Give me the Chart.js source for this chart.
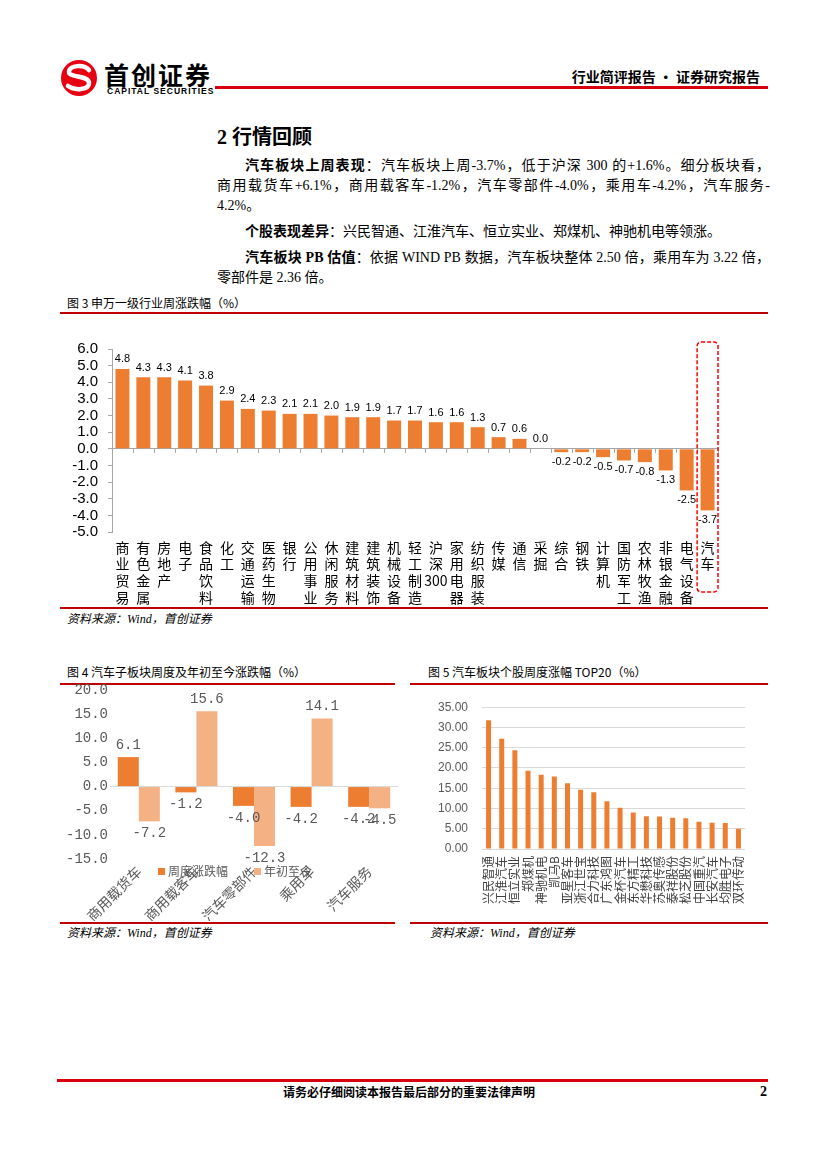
<!DOCTYPE html>
<html lang="zh-CN">
<head>
<meta charset="UTF-8" />
<script src="https://cdn.jsdelivr.net/npm/chart.js"></script>
<title>行业简评报告</title>
<style>
  body { margin: 0; background: #fff; font-family: "Liberation Serif", "Noto Sans CJK SC", serif; color: #000; }
  .page { position: relative; width: 827px; height: 1169px; overflow: hidden; }
  .abs { position: absolute; }
  .redline { position: absolute; background: #C00000; }
  .figtitle { position: absolute; font-family: "Noto Sans CJK SC", sans-serif; font-size: 12px; line-height: 16px; white-space: nowrap; }
  .source { position: absolute; font-family: "Liberation Serif", "Noto Sans CJK SC", serif; font-style: italic; font-size: 12px; line-height: 16px; white-space: nowrap; }
  .para { position: absolute; left: 217px; width: 553px; font-size: 14px; }
  .ln { height: 20px; line-height: 20px; white-space: nowrap; }
  .j { text-align: justify; text-align-last: justify; white-space: normal; }
  .ind { text-indent: 28px; }
  .para b { font-family: "Liberation Serif", "Noto Sans CJK SC", serif; font-weight: bold; }
  .chartbox { position: absolute; }
  .lg { position: absolute; font-family: "Noto Sans CJK SC", sans-serif; font-size: 12px; color: #595959; line-height: 14px; white-space: nowrap; }
  .lg i { display: inline-block; width: 7px; height: 7px; margin-right: 3px; vertical-align: 1px; }
</style>
</head>
<body>
<div class="page">
  <!-- header -->
  <svg class="abs" style="left:60px;top:59px" width="38" height="38" viewBox="0 0 38 38">
    <circle cx="19" cy="19" r="18" fill="#E60012" />
    <path d="M29 11 C24 5, 9 6, 9 13 C9 19, 29 16, 29 24 C29 31, 15 32, 8 27" stroke="#fff" stroke-width="4.5" fill="none" stroke-linecap="round" />
  </svg>
  <div class="abs" style="left:104px;top:60px;font-family:'Noto Sans CJK SC';font-weight:bold;font-size:25px;line-height:28px;letter-spacing:2px">首创证券</div>
  <div class="abs" style="left:107px;top:86px;font-family:'Liberation Sans';font-weight:bold;font-size:8.5px;line-height:10px;letter-spacing:1px">CAPITAL SECURITIES</div>
  <div class="redline" style="left:215px;top:86px;width:553px;height:3px;background:#D7000F"></div>
  <div class="abs" style="left:553px;top:66px;width:207px;text-align:right;font-family:'Noto Sans CJK SC';font-weight:bold;font-size:14px;line-height:20px;white-space:nowrap">行业简评报告 · 证券研究报告</div>

  <!-- text -->
  <div class="abs" style="left:217px;top:124px;font-family:'Liberation Serif','Noto Sans CJK SC';font-weight:bold;font-size:20px;line-height:26px">2 行情回顾</div>
  <div class="para" style="top:156px">
    <div class="ln j ind"><b>汽车板块上周表现</b>：汽车板块上周-3.7%，低于沪深 300 的+1.6%。细分板块看，</div>
    <div class="ln j">商用载货车+6.1%，商用载客车-1.2%，汽车零部件-4.0%，乘用车-4.2%，汽车服务-</div>
    <div class="ln">4.2%。</div>
  </div>
  <div class="para" style="top:222px">
    <div class="ln ind"><b>个股表现差异</b>：兴民智通、江淮汽车、恒立实业、郑煤机、神驰机电等领涨。</div>
  </div>
  <div class="para" style="top:248px">
    <div class="ln j ind"><b>汽车板块 PB 估值</b>：依据 WIND PB 数据，汽车板块整体 2.50 倍，乘用车为 3.22 倍，</div>
    <div class="ln">零部件是 2.36 倍。</div>
  </div>

  <!-- figure 3 -->
  <div class="figtitle" style="left:67px;top:295px">图 3 申万一级行业周涨跌幅（%）</div>
  <div class="redline" style="left:60px;top:312px;width:708px;height:2px"></div>
  <div class="chartbox" style="left:60px;top:330px;width:708px;height:280px"><canvas id="c3"></canvas></div>
  <div class="redline" style="left:60px;top:607px;width:708px;height:1.5px"></div>
  <div class="source" style="left:67px;top:611px">资料来源：Wind，首创证券</div>

  <!-- figure 4 -->
  <div class="figtitle" style="left:67px;top:664px">图 4 汽车子板块周度及年初至今涨跌幅（%）</div>
  <div class="redline" style="left:60px;top:683px;width:335px;height:1.5px"></div>
  <div class="chartbox" style="left:60px;top:676px;width:340px;height:245px"><canvas id="c4"></canvas></div>
  <div class="lg" style="left:158px;top:864px"><i style="background:#ED7D31"></i>周度涨跌幅</div>
  <div class="lg" style="left:254px;top:864px"><i style="background:#F4B183"></i>年初至今</div>
  <div class="redline" style="left:60px;top:922px;width:335px;height:1.5px"></div>
  <div class="source" style="left:67px;top:925px">资料来源：Wind，首创证券</div>

  <!-- figure 5 -->
  <div class="figtitle" style="left:428px;top:664px">图 5 汽车板块个股周度涨幅 TOP20（%）</div>
  <div class="redline" style="left:410px;top:683px;width:358px;height:1.5px"></div>
  <div class="chartbox" style="left:410px;top:686px;width:358px;height:236px"><canvas id="c5"></canvas></div>
  <div class="redline" style="left:410px;top:922px;width:358px;height:1.5px"></div>
  <div class="source" style="left:430px;top:925px">资料来源：Wind，首创证券</div>

  <!-- footer -->
  <div class="redline" style="left:57px;top:1079px;width:711px;height:3px;background:#D7000F"></div>
  <div class="abs" style="left:283px;top:1084px;font-family:'Noto Sans CJK SC';font-weight:bold;font-size:12px;line-height:16px;white-space:nowrap">请务必仔细阅读本报告最后部分的重要法律声明</div>
  <div class="abs" style="left:760px;top:1083px;font-family:'Liberation Serif';font-weight:bold;font-size:14px;line-height:18px">2</div>
</div>

<script>
  // 图3 申万一级行业周涨跌幅
  const industryNames = ['商业贸易', '有色金属', '房地产', '电子', '食品饮料', '化工', '交通运输', '医药生物', '银行', '公用事业',
    '休闲服务', '建筑材料', '建筑装饰', '机械设备', '轻工制造', '沪深300', '家用电器', '纺织服装', '传媒', '通信',
    '采掘', '综合', '钢铁', '计算机', '国防军工', '农林牧渔', '非银金融', '电气设备', '汽车'];
  const industryChange = [4.8, 4.3, 4.3, 4.1, 3.8, 2.9, 2.4, 2.3, 2.1, 2.1,
    2.0, 1.9, 1.9, 1.7, 1.7, 1.6, 1.6, 1.3, 0.7, 0.6,
    0.0, -0.2, -0.2, -0.5, -0.7, -0.8, -1.3, -2.5, -3.7];

  // 图4 汽车子板块
  const subNames = ['商用载货车', '商用载客车', '汽车零部件', '乘用车', '汽车服务'];
  const subWeek = [6.1, -1.2, -4.0, -4.2, -4.2];
  const subYtd = [-7.2, 15.6, -12.3, 14.1, -4.5];
  const subSeries = ['周度涨跌幅', '年初至今'];

  // 图5 个股周度涨幅 TOP20
  const stockNames = ['兴民智通', '江淮汽车', '恒立实业', '郑煤机', '神驰机电', '凯马B', '亚星客车', '浙江世宝', '合力科技', '广东鸿图',
    '金杯汽车', '东方精工', '华懋科技', '苏奥传感', '泰祥股份', '松芝股份', '中国重汽', '长安汽车', '均胜电子', '双环传动'];
  const stockChange = [31.8, 27.2, 24.4, 19.3, 18.3, 17.9, 16.2, 14.6, 14.0, 11.8,
    10.2, 9.0, 8.1, 8.0, 7.7, 7.6, 6.7, 6.5, 6.4, 5.0];

  const ORANGE = '#ED7D31';
  const LIGHT = '#F4B183';

  // values drawn next to each bar
  const valueLabels = {
    id: 'valueLabels',
    afterDatasetsDraw(chart, args, opts) {
      const ctx = chart.ctx;
      ctx.save();
      ctx.font = opts.font;
      ctx.fillStyle = opts.color;
      ctx.textAlign = 'center';
      chart.data.datasets.forEach((ds, i) => {
        chart.getDatasetMeta(i).data.forEach((bar, j) => {
          const v = ds.data[j];
          if (v >= 0) {
            ctx.textBaseline = 'bottom';
            ctx.fillText(v.toFixed(1), bar.x, bar.y - opts.offset);
          } else {
            ctx.textBaseline = 'top';
            ctx.fillText(v.toFixed(1), bar.x, bar.y + opts.offset);
          }
        });
      });
      ctx.restore();
    }
  };

  // dashed box round one category
  const highlightBox = {
    id: 'highlightBox',
    afterDraw(chart, args, opts) {
      const xs = chart.scales.x, ys = chart.scales.y;
      const cx = xs.getPixelForValue(opts.index);
      const half = xs.width / chart.data.labels.length / 2;
      const top = ys.getPixelForValue(ys.max) - 7;
      const bottom = chart.chartArea.bottom + 60;
      const ctx = chart.ctx;
      ctx.save();
      ctx.strokeStyle = '#FF0000';
      ctx.lineWidth = 1.5;
      ctx.setLineDash([4, 2]);
      ctx.beginPath();
      ctx.roundRect(cx - half, top, half * 2, bottom - top, 4);
      ctx.stroke();
      ctx.restore();
    }
  };

  // small marks on the zero line between categories
  const zeroTicks = {
    id: 'zeroTicks',
    afterDatasetsDraw(chart) {
      const xs = chart.scales.x, ys = chart.scales.y;
      const y0 = ys.getPixelForValue(0);
      const n = chart.data.labels.length;
      const ctx = chart.ctx;
      ctx.save();
      ctx.strokeStyle = '#A6A6A6';
      ctx.lineWidth = 1;
      ctx.beginPath();
      for (let i = 1; i <= n; i++) {
        const x = Math.round(xs.left + xs.width * i / n) + 0.5;
        ctx.moveTo(x, y0);
        ctx.lineTo(x, y0 + 4);
      }
      ctx.stroke();
      ctx.restore();
    }
  };

  const vertical = name => name.match(/\d+|./g);

  new Chart(document.getElementById('c3'), {
    type: 'bar',
    data: {
      labels: industryNames.map(vertical),
      datasets: [{ data: industryChange, backgroundColor: ORANGE, categoryPercentage: 0.67, barPercentage: 1 }]
    },
    plugins: [valueLabels, highlightBox, zeroTicks],
    options: {
      responsive: true, maintainAspectRatio: false, animation: false,
      layout: { padding: { top: 19, right: 50, bottom: 0, left: 0 } },
      plugins: {
        legend: { display: false }, tooltip: { enabled: false },
        valueLabels: { font: '11px "Liberation Sans"', color: '#000', offset: 4 },
        highlightBox: { index: industryNames.length - 1 }
      },
      scales: {
        x: {
          grid: { display: false, drawTicks: false }, border: { display: false },
          ticks: { autoSkip: false, maxRotation: 0, minRotation: 0, color: '#000', padding: 7,
            font: { family: '"Noto Sans CJK SC"', size: 14, lineHeight: 1.19 } },
          afterFit: s => { s.height = 78; }
        },
        y: {
          min: -5, max: 6,
          ticks: { stepSize: 1, autoSkip: false, callback: v => v.toFixed(1), color: '#000', padding: 10,
            font: { family: '"Liberation Sans"', size: 15 } },
          grid: { color: c => c.tick && c.tick.value === 0 ? '#A6A6A6' : 'rgba(0,0,0,0)', tickColor: '#A6A6A6', tickLength: 4 },
          border: { color: '#A6A6A6' },
          afterFit: s => { s.width = 52; }
        }
      }
    }
  });

  new Chart(document.getElementById('c4'), {
    type: 'bar',
    data: {
      labels: subNames,
      datasets: [
        { label: subSeries[0], data: subWeek, backgroundColor: ORANGE, categoryPercentage: 0.73, barPercentage: 1 },
        { label: subSeries[1], data: subYtd, backgroundColor: LIGHT, categoryPercentage: 0.73, barPercentage: 1 }
      ]
    },
    plugins: [valueLabels],
    options: {
      responsive: true, maintainAspectRatio: false, animation: false,
      layout: { padding: { top: 14, right: 2, bottom: 0, left: 0 } },
      plugins: {
        legend: { display: false }, tooltip: { enabled: false },
        valueLabels: { font: '14px "Liberation Mono"', color: '#595959', offset: 5 }
      },
      scales: {
        x: {
          grid: { display: false, drawTicks: false }, border: { display: false },
          ticks: { autoSkip: false, maxRotation: 45, minRotation: 45, color: '#595959', padding: 4,
            font: { family: '"Noto Sans CJK SC"', size: 14 } },
          afterFit: s => { s.height = 62; }
        },
        y: {
          min: -15, max: 20,
          ticks: { stepSize: 5, callback: v => v.toFixed(1), color: '#595959', padding: 2,
            font: { family: '"Liberation Mono"', size: 14 } },
          grid: { drawTicks: false, color: c => c.tick && c.tick.value === 0 ? '#D9D9D9' : 'rgba(0,0,0,0)' },
          border: { display: false },
          afterFit: s => { s.width = 50; }
        }
      }
    }
  });

  new Chart(document.getElementById('c5'), {
    type: 'bar',
    data: {
      labels: stockNames,
      datasets: [{ data: stockChange, backgroundColor: ORANGE, categoryPercentage: 1, barPercentage: 0.38 }]
    },
    options: {
      responsive: true, maintainAspectRatio: false, animation: false,
      layout: { padding: { top: 15, right: 23, bottom: 0, left: 0 } },
      plugins: { legend: { display: false }, tooltip: { enabled: false } },
      scales: {
        x: {
          grid: { display: false, drawTicks: false }, border: { display: false },
          ticks: { autoSkip: false, maxRotation: 90, minRotation: 90, color: '#404040', padding: 7,
            font: { family: '"Noto Sans CJK SC"', size: 12 } },
          afterFit: s => { s.height = 73; }
        },
        y: {
          min: 0, max: 35,
          ticks: { stepSize: 5, callback: v => v.toFixed(2), color: '#595959', padding: 14,
            font: { family: '"Liberation Sans"', size: 12 } },
          grid: { drawTicks: false, color: '#D9D9D9' },
          border: { display: false },
          afterFit: s => { s.width = 72; }
        }
      }
    }
  });
</script>
</body>
</html>
